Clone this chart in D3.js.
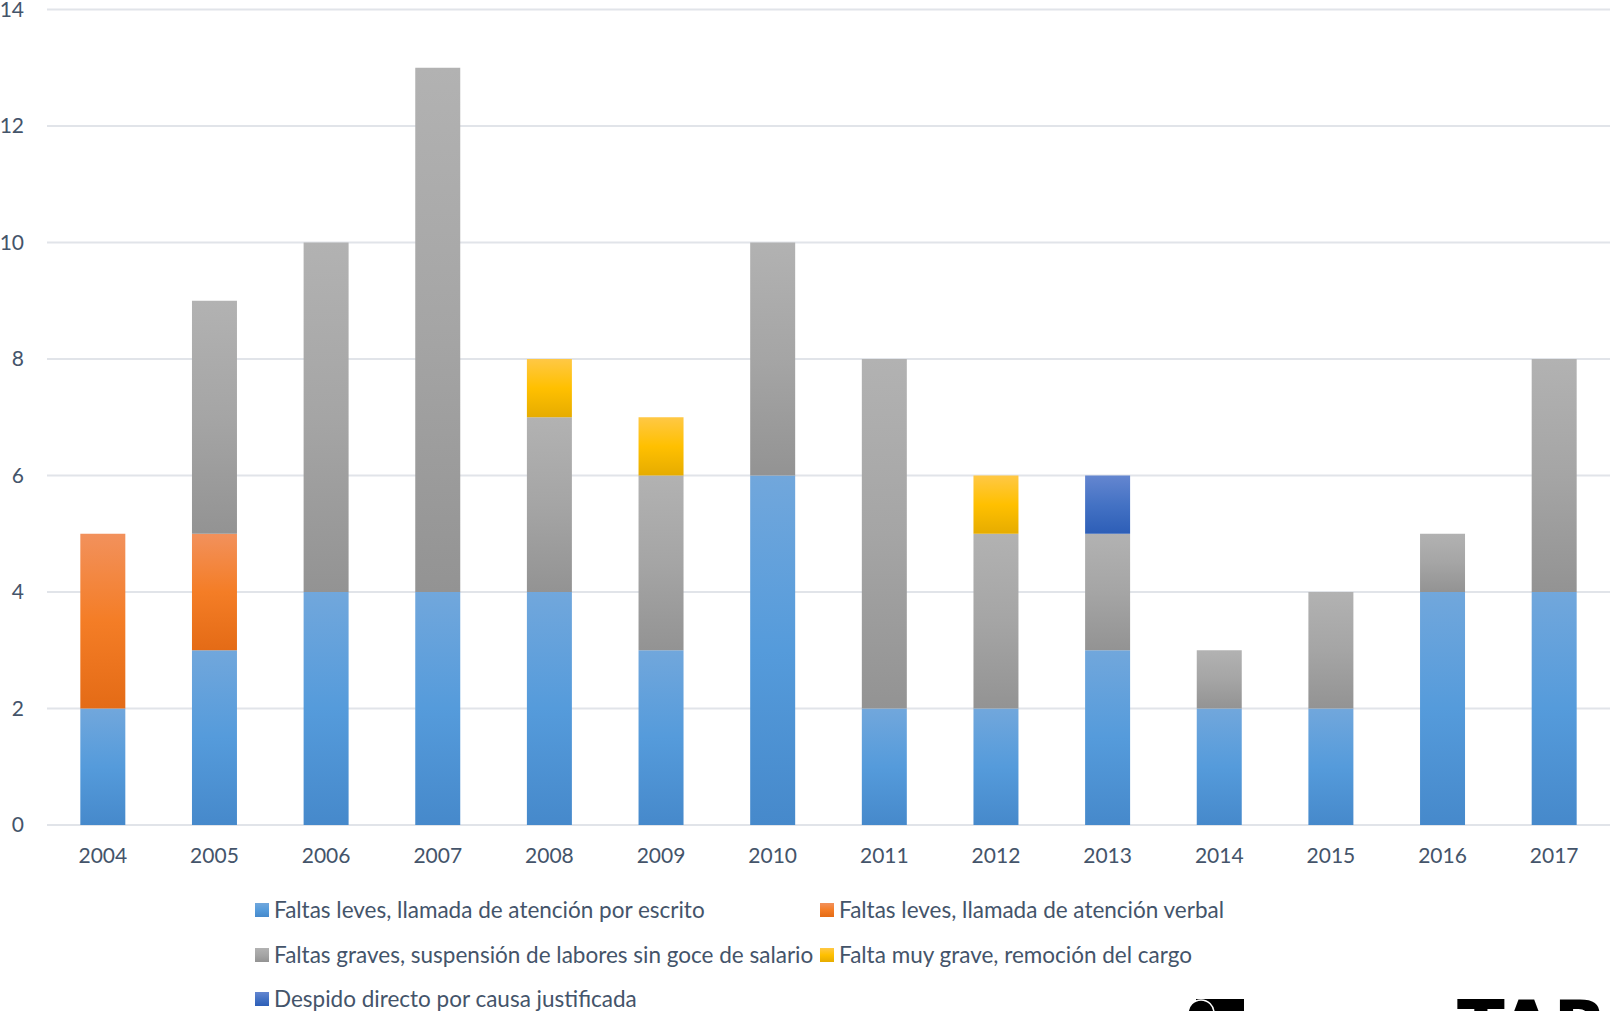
<!DOCTYPE html>
<html>
<head>
<meta charset="utf-8">
<script src="https://cdn.jsdelivr.net/npm/d3@7"></script>
<style>
  body { margin: 0; background: #fff; }
  svg { display: block; }
</style>
</head>
<body>
<div id="chart"></div>
<script>
// Données
const years = ["2004","2005","2006","2007","2008","2009","2010","2011","2012","2013","2014","2015","2016","2017"];
const seriesNames = [
  "Faltas leves, llamada de atención por escrito",
  "Faltas leves, llamada de atención verbal",
  "Faltas graves, suspensión de labores sin goce de salario",
  "Falta muy grave, remoción del cargo",
  "Despido directo por causa justificada"
];
const escrito  = [2, 3, 4, 4, 4, 3, 6, 2, 2, 3, 2, 2, 4, 4];
const verbal   = [3, 2, 0, 0, 0, 0, 0, 0, 0, 0, 0, 0, 0, 0];
const graves   = [0, 4, 6, 9, 3, 3, 4, 6, 3, 2, 1, 2, 1, 4];
const muyGrave = [0, 0, 0, 0, 1, 1, 0, 0, 1, 0, 0, 0, 0, 0];
const despido  = [0, 0, 0, 0, 0, 0, 0, 0, 0, 1, 0, 0, 0, 0];
const yTicks = [0, 2, 4, 6, 8, 10, 12, 14];

const width = 1610;
const height = 1011;
const textColor = "#44546A";
const fontFamily = "Lato, 'Open Sans', sans-serif";

// couleurs dégradées (haut, milieu, bas) par série
const gradStops = [
  ["#71A7DC", "#559BDB", "#4689CB"],
  ["#F2915C", "#F47D26", "#E46B16"],
  ["#B2B2B2", "#A5A5A5", "#939393"],
  ["#FFC845", "#FFC000", "#E6AC00"],
  ["#6486D0", "#4472C4", "#2D5EB7"]
];

const svg = d3.select("#chart").append("svg")
  .attr("width", width)
  .attr("height", height);

const defs = svg.append("defs");
gradStops.forEach((c, i) => {
  const g = defs.append("linearGradient")
    .attr("id", "grad" + i)
    .attr("x1", 0).attr("y1", 0).attr("x2", 0).attr("y2", 1);
  g.append("stop").attr("offset", "0%").attr("stop-color", c[0]);
  g.append("stop").attr("offset", "50%").attr("stop-color", c[1]);
  g.append("stop").attr("offset", "100%").attr("stop-color", c[2]);
});

// échelles
const x = d3.scaleBand()
  .domain(years)
  .range([47, 1610])
  .paddingInner(0.597)
  .paddingOuter(0.2985);

const y = d3.scaleLinear()
  .domain([0, 14])
  .range([825, 9.5]);

// grille
svg.append("g")
  .selectAll("line")
  .data(yTicks)
  .join("line")
  .attr("x1", 47)
  .attr("x2", width)
  .attr("y1", d => y(d))
  .attr("y2", d => y(d))
  .attr("stroke", "#E1E4E9")
  .attr("stroke-width", 2);

// axe Y
const yAxis = svg.append("g")
  .attr("transform", "translate(24,0)")
  .call(d3.axisLeft(y).tickValues(yTicks).tickSize(0).tickPadding(0));
yAxis.select(".domain").remove();
yAxis.selectAll("text")
  .style("font-size", "21px")
  .style("font-family", fontFamily)
  .style("fill", textColor);

// axe X
const xAxis = svg.append("g")
  .attr("transform", "translate(0,848)")
  .call(d3.axisBottom(x).tickSize(0).tickPadding(0));
xAxis.select(".domain").remove();
xAxis.selectAll("text")
  .attr("dy", "0.71em")
  .style("font-size", "21px")
  .style("font-family", fontFamily)
  .style("fill", textColor);

// empilement
const table = years.map((yr, i) => ({
  year: yr,
  s0: escrito[i], s1: verbal[i], s2: graves[i], s3: muyGrave[i], s4: despido[i]
}));
const stack = d3.stack().keys(["s0", "s1", "s2", "s3", "s4"]);
const layers = stack(table);

svg.append("g")
  .selectAll("g")
  .data(layers)
  .join("g")
  .attr("fill", (d, i) => `url(#grad${i})`)
  .selectAll("rect")
  .data(d => d.filter(p => p[1] - p[0] > 0))
  .join("rect")
  .attr("x", d => x(d.data.year))
  .attr("width", x.bandwidth())
  .attr("y", d => y(d[1]))
  .attr("height", d => y(d[0]) - y(d[1]));

// légende
const legendPos = [
  [255, 910], [820, 910],
  [255, 955], [820, 955],
  [255, 999]
];
const legend = svg.append("g");
seriesNames.forEach((name, i) => {
  const [lx, ly] = legendPos[i];
  legend.append("rect")
    .attr("x", lx).attr("y", ly - 7)
    .attr("width", 14).attr("height", 14)
    .attr("fill", `url(#grad${i})`);
  legend.append("text")
    .attr("x", lx + 19).attr("y", ly)
    .attr("dy", "0.35em")
    .style("font-size", "22.5px")
    .style("font-family", fontFamily)
    .style("fill", textColor)
    .text(name);
});

// logo coupé en bas à droite
const logo = svg.append("g");
logo.append("rect").attr("x", 1196).attr("y", 999).attr("width", 48).attr("height", 20).attr("fill", "#000");
logo.append("circle").attr("cx", 1201).attr("cy", 1013).attr("r", 13).attr("fill", "#000").attr("stroke", "#fff").attr("stroke-width", 1.5);
logo.append("text")
  .attr("x", 1457).attr("y", 1050)
  .style("font-size", "70px")
  .style("font-weight", "900")
  .style("font-family", "'DejaVu Sans', sans-serif")
  .style("fill", "#000")
  .text("TARC");
</script>
</body>
</html>
